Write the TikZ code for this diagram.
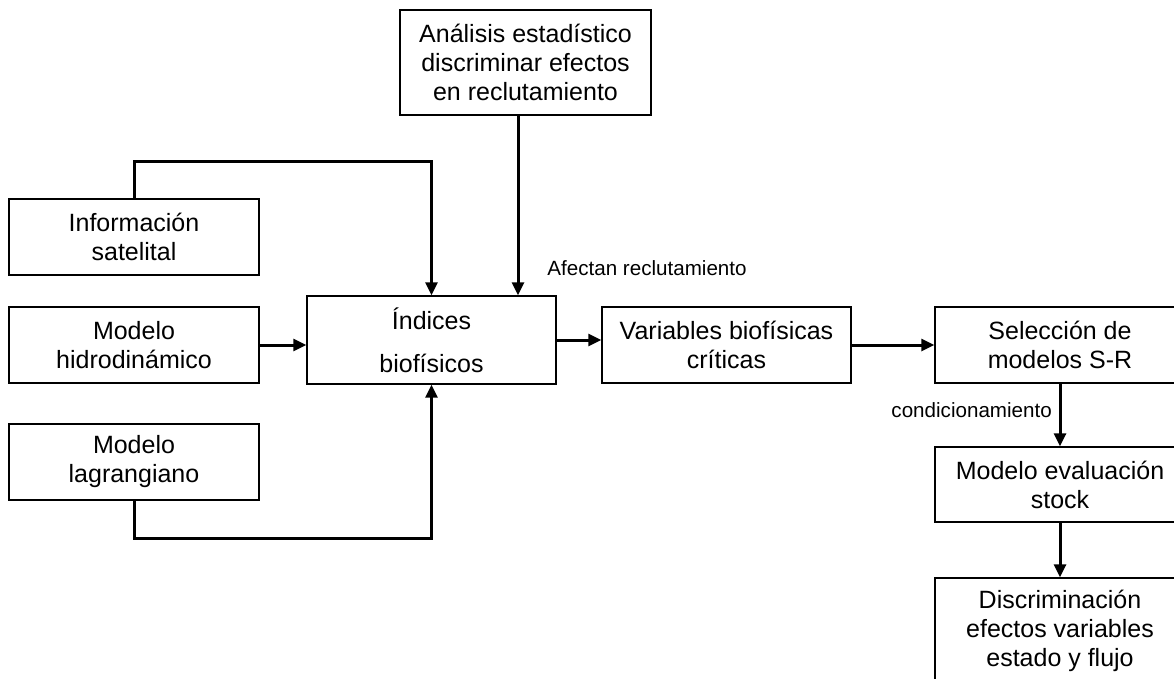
\documentclass[tikz,border=0pt]{standalone}
\usepackage{fontspec}
\setmainfont{Liberation Sans}
\usetikzlibrary{arrows.meta}
\begin{document}
\begin{tikzpicture}[x=1pt,y=-1pt,
  box/.style={draw, line width=1.4pt, align=center, inner sep=0pt,
    font=\fontsize{25}{29}\selectfont},
  arr/.style={line width=3pt, -{Triangle[length=13pt,width=12pt]}},
  lbl/.style={inner sep=0pt, font=\fontsize{20.6}{24}\selectfont}]
\useasboundingbox (0,0) rectangle (1174,679);
\clip (0,0) rectangle (1174,679);
\node[box, minimum width=251pt, minimum height=105pt] (ana) at (525.5,62.5)
  {Análisis estadístico\\discriminar efectos\\en reclutamiento};
\node[box, minimum width=250pt, minimum height=76pt] (sat) at (134,237)
  {Información\\satelital};
\node[box, minimum width=250pt, minimum height=76pt] (hid) at (134,345)
  {Modelo\\hidrodinámico};
\node[box, minimum width=250pt, minimum height=76pt] (lag) at (134,462)
  {Modelo\\lagrangiano};
\node[box, minimum width=249pt, minimum height=88pt] (ind) at (431.5,340)
  {Índices\\[14pt]biofísicos};
\node[box, minimum width=249pt, minimum height=76pt] (var) at (726.5,345)
  {Variables biofísicas\\críticas};
\node[box, minimum width=250pt, minimum height=76pt] (sel) at (1060,345)
  {Selección de\\modelos S-R};
\node[box, minimum width=250pt, minimum height=75pt] (eva) at (1060,484.5)
  {Modelo evaluación\\stock};
\node[box, minimum width=250pt, minimum height=106pt] (dis) at (1060,631)
  {Discriminación\\efectos variables\\estado y flujo};
\node[lbl] (afe) at (647,268) {Afectan reclutamiento};
\node[lbl, anchor=east] (con) at (1052,410) {condicionamiento};
\draw[arr] (sat.north) -- ++(0,-37) -| (ind.north);
\draw[arr] (lag.south) -- ++(0,38) -| (ind.south);
\draw[arr] (hid.east) -- (hid.east -| ind.west);
\draw[arr] ([xshift=-7.5pt]ana.south) -- ([xshift=-7.5pt]ana.south |- ind.north);
\draw[arr] (ind.east) -- (ind.east -| var.west);
\draw[arr] (var.east) -- (var.east -| sel.west);
\draw[arr] (sel.south) -- (eva.north);
\draw[arr] (eva.south) -- (dis.north);
\end{tikzpicture}
\end{document}
